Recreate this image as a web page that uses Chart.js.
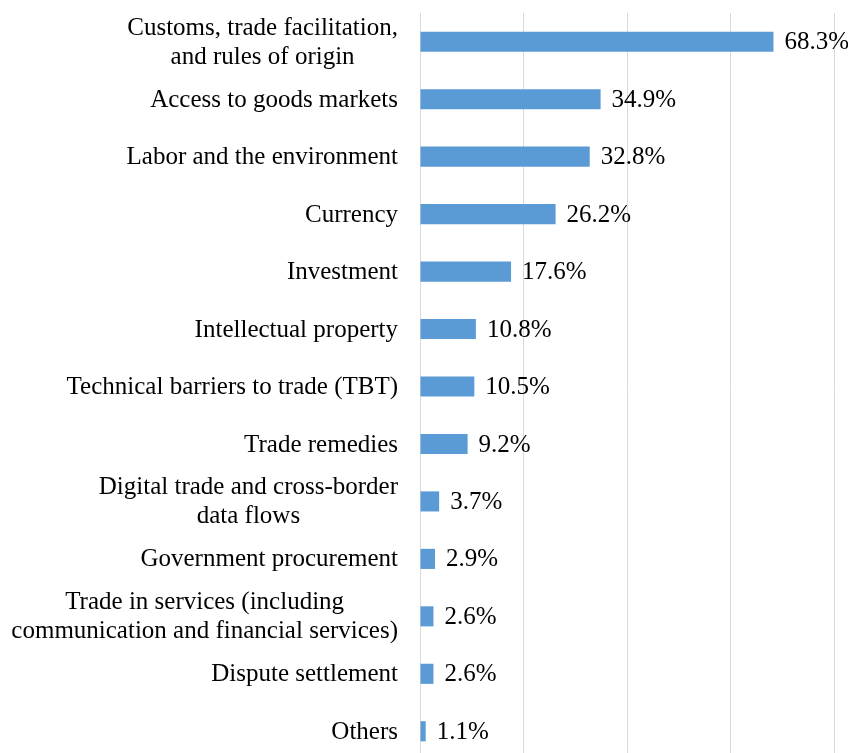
<!DOCTYPE html>
<html>
<head>
<meta charset="utf-8">
<script src="https://cdn.jsdelivr.net/npm/chart.js@4/dist/chart.umd.min.js"></script>
<style>
  html, body { margin: 0; padding: 0; background: #fff; overflow: hidden; }
  #wrap { width: 848px; height: 760px; }
</style>
</head>
<body>
<div id="wrap"><canvas id="c"></canvas></div>
<script>
// Topics and share of responses (%)
const categories = [
  ["Customs, trade facilitation,", "and rules of origin"],
  "Access to goods markets",
  "Labor and the environment",
  "Currency",
  "Investment",
  "Intellectual property",
  "Technical barriers to trade (TBT)",
  "Trade remedies",
  ["Digital trade and cross-border", "data flows"],
  "Government procurement",
  ["Trade in services (including", "communication and financial services)"],
  "Dispute settlement",
  "Others"
];
const shares = [68.3, 34.9, 32.8, 26.2, 17.6, 10.8, 10.5, 9.2, 3.7, 2.9, 2.6, 2.6, 1.1];
const xTicks = [0, 20, 40, 60, 80];

const FONT = "'Liberation Serif', 'Times New Roman', serif";
const FONT_SIZE = 25;
const LINE_H = 29;

// Category names: each block sits right-aligned against the axis,
// with its lines centred on one another
const categoryLabels = {
  id: 'categoryLabels',
  afterDraw(chart) {
    const { ctx } = chart;
    const yScale = chart.scales.y;
    const rightEdge = yScale.right - 22;
    ctx.save();
    ctx.font = FONT_SIZE + "px " + FONT;
    ctx.fillStyle = "#000";
    ctx.textAlign = "center";
    ctx.textBaseline = "middle";
    categories.forEach((label, i) => {
      const lines = Array.isArray(label) ? label : [label];
      const widest = Math.max(...lines.map(l => ctx.measureText(l).width));
      const cx = rightEdge - widest / 2;
      const cy = yScale.getPixelForTick(i) + 1;
      const startY = cy - (lines.length - 1) * LINE_H / 2;
      lines.forEach((line, k) => ctx.fillText(line, cx, startY + k * LINE_H));
    });
    ctx.restore();
  }
};

// Writes each bar's value just past its end
const valueLabels = {
  id: 'valueLabels',
  afterDatasetsDraw(chart) {
    const { ctx } = chart;
    const meta = chart.getDatasetMeta(0);
    ctx.save();
    ctx.font = FONT_SIZE + "px " + FONT;
    ctx.fillStyle = "#000";
    ctx.textAlign = "left";
    ctx.textBaseline = "middle";
    meta.data.forEach((bar, i) => {
      ctx.fillText(shares[i].toFixed(1) + "%", bar.x + 11, bar.y + 1);
    });
    ctx.restore();
  }
};

new Chart(document.getElementById('c'), {
  type: 'bar',
  data: {
    labels: categories,
    datasets: [{
      data: shares,
      backgroundColor: '#5B9BD5',
      borderWidth: 0,
      categoryPercentage: 1,
      barPercentage: 0.35
    }]
  },
  options: {
    indexAxis: 'y',
    responsive: true,
    maintainAspectRatio: false,
    animation: false,
    layout: { padding: { top: 13, right: 14, left: 0, bottom: 0 } },
    plugins: { legend: { display: false }, tooltip: { enabled: false } },
    scales: {
      x: {
        min: 0, max: 80,
        afterBuildTicks(scale) { scale.ticks = xTicks.map(v => ({ value: v })); },
        afterFit(scale) { scale.height = 0; scale.paddingLeft = 0; scale.paddingRight = 0; },
        ticks: { display: false },
        grid: { color: '#d9d9d9', lineWidth: 1, drawTicks: false },
        border: { display: false }
      },
      y: {
        afterFit(scale) { scale.width = 420; scale.paddingTop = 0; scale.paddingBottom = 0; },
        ticks: { display: false, autoSkip: false },
        grid: { display: false, drawTicks: false },
        border: { display: true, color: '#d9d9d9' }
      }
    }
  },
  plugins: [categoryLabels, valueLabels]
});
</script>
</body>
</html>
